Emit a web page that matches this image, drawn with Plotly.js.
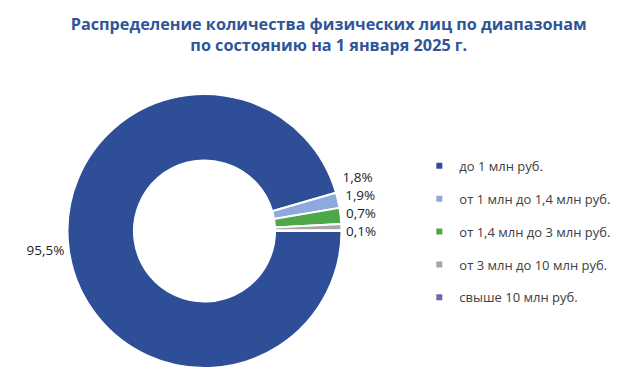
<!DOCTYPE html>
<html>
<head>
<meta charset="utf-8">
<script src="https://cdn.plot.ly/plotly-3.0.1.min.js"></script>
<style>html,body{margin:0;padding:0;background:#fff;}#chart{width:618px;height:380px;}path.textline{display:none !important;}</style>
</head>
<body>
<div id="chart"></div>
<script>
const categories = ["до 1 млн руб.", "от 1 млн до 1,4 млн руб.", "от 1,4 млн до 3 млн руб.", "от 3 млн до 10 млн руб.", "свыше 10 млн руб."];
const shares = [95.5, 1.8, 1.9, 0.7, 0.1];
const shareLabels = ["95,5%", "1,8%", "1,9%", "0,7%", "0,1%"];
const colors = ["#2E4F98", "#8EA9DC", "#4EA84A", "#A6A6A6", "#7467A9"];

const pie = {
  type: "pie",
  labels: categories,
  values: shares,
  text: shareLabels,
  textinfo: "text",
  textposition: "outside",
  sort: false,
  direction: "clockwise",
  rotation: 90,
  hole: 0.515,
  marker: {colors: colors, line: {color: "#fff", width: 2}},
  outsidetextfont: {family: "Open Sans, sans-serif", size: 13.5, color: "#1e1e1e"},
  showlegend: false,
  domain: {x: [0.1092, 0.5526], y: [0.0316, 0.7526]}
};

const legendTraces = categories.map((c, i) => ({
  type: "scatter", mode: "markers", x: [null], y: [null],
  name: c, legendgroup: "g" + i,
  marker: {symbol: "square", size: 6, color: colors[i]},
  showlegend: true, hoverinfo: "skip"
}));

const layout = {
  width: 618, height: 380,
  margin: {l: 0, r: 0, t: 0, b: 0, autoexpand: false},
  paper_bgcolor: "#fff", plot_bgcolor: "#fff",
  title: {
    text: "<b>Распределение количества физических лиц по диапазонам<br>по состоянию на 1 января 2025 г.</b>",
    x: 0.532, xanchor: "center", y: 0.921, yanchor: "middle",
    font: {family: "Open Sans, sans-serif", size: 16.2, color: "#2F5597"}
  },
  xaxis: {visible: false}, yaxis: {visible: false},
  showlegend: true,
  legend: {
    x: 0.6785, y: 0.39, xanchor: "left", yanchor: "middle",
    font: {family: "Open Sans, sans-serif", size: 13, color: "#404040"},
    tracegroupgap: 13, itemwidth: 30, bgcolor: "rgba(0,0,0,0)"
  }
};

Plotly.newPlot("chart", [pie, ...legendTraces], layout, {displayModeBar: false, staticPlot: true});
</script>
</body>
</html>
